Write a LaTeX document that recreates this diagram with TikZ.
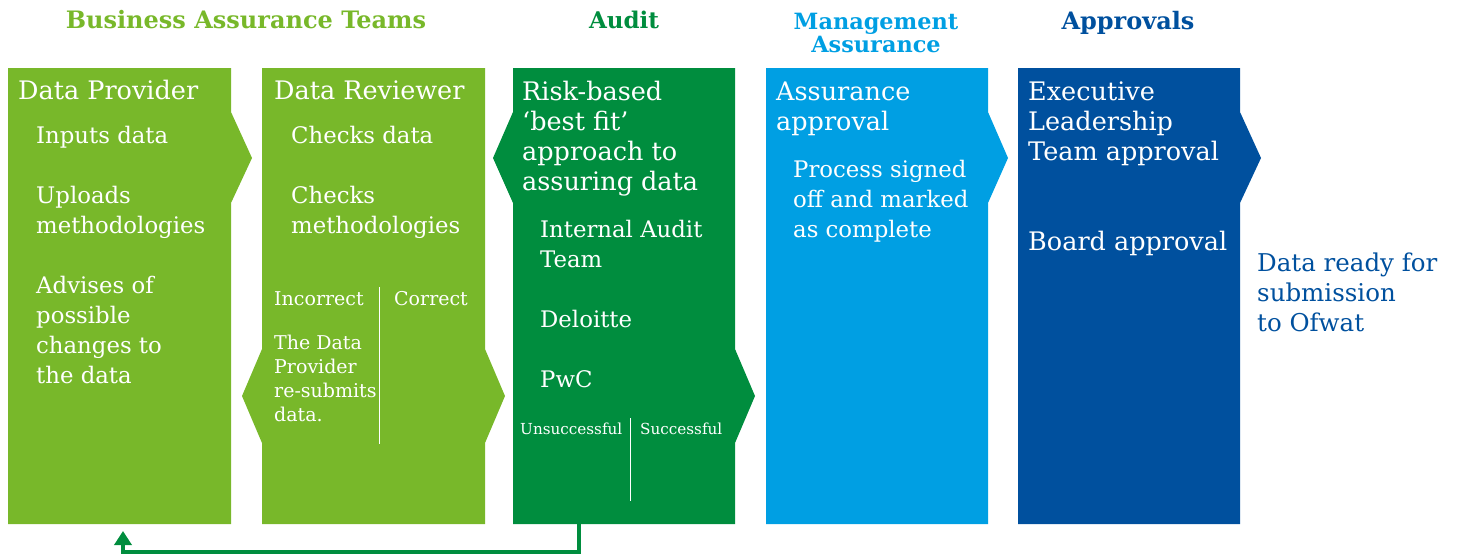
\documentclass[tikz,border=0pt]{standalone}
\usepackage{fontspec}
\setmainfont{DejaVu Serif}
\usetikzlibrary{arrows.meta}
\definecolor{lgreen}{HTML}{78B82A}
\definecolor{dgreen}{HTML}{008D3E}
\definecolor{lblue}{HTML}{009FE3}
\definecolor{dblue}{HTML}{00509E}
\begin{document}
\begin{tikzpicture}[x=1pt,y=-1pt,
  boxtitle/.style={anchor=base west,inner sep=0pt,text=white,font=\fontsize{25.5}{30}\selectfont},
  item/.style={anchor=base west,inner sep=0pt,text=white,font=\fontsize{22.8}{28}\selectfont},
  small/.style={anchor=base west,inner sep=0pt,text=white,font=\fontsize{19}{24}\selectfont},
  tiny/.style={anchor=base west,inner sep=0pt,text=white,font=\fontsize{15.2}{18}\selectfont},
  header/.style={anchor=base,inner sep=0pt,font=\bfseries\fontsize{24}{28}\selectfont},
  divider/.style={draw=white,line width=1pt}]
\useasboundingbox (0,0) rectangle (1458,555);
% boxes
\fill[lgreen] (8,68) -- (231,68) -- (231,112) -- (252,158) -- (231,203) -- (231,524) -- (8,524) -- cycle;
\fill[lgreen] (262,68) -- (485,68) -- (485,349) -- (505,396) -- (485,443) -- (485,524) -- (262,524) -- (262,443) -- (242,396) -- (262,349) -- cycle;
\fill[dgreen] (513,68) -- (735,68) -- (735,349) -- (755,396) -- (735,443) -- (735,524) -- (513,524) -- (513,203) -- (493,158) -- (513,112) -- cycle;
\fill[lblue] (766,68) -- (988,68) -- (988,112) -- (1008,158) -- (988,203) -- (988,524) -- (766,524) -- cycle;
\fill[dblue] (1018,68) -- (1240,68) -- (1240,112) -- (1261,158) -- (1240,203) -- (1240,524) -- (1018,524) -- cycle;
% dividers
\draw[divider] (379,287) -- (379,444);
\draw[divider] (630,418) -- (630,501);
% headers
\node[header,text=lgreen] (h1) at (246,28) {Business Assurance Teams};
\node[header,text=dgreen,font=\bfseries\fontsize{23}{28}\selectfont] (h2) at (624,28) {Audit};
\node[header,text=lblue,font=\bfseries\fontsize{22.4}{24}\selectfont] (h3a) at (876,29) {Management};
\node[header,text=lblue,font=\bfseries\fontsize{22.4}{24}\selectfont] (h3b) at (876,52) {Assurance};
\node[header,text=dblue] (h4) at (1128,29) {Approvals};
% box 1
\node[boxtitle] (t1) at (18,99) {Data Provider};
\node[item] (p1) at (36,143) {Inputs data};
\node[item] (p2) at (36,203) {Uploads};
\node[item] (p3) at (36,233) {methodologies};
\node[item] (p4) at (36,293) {Advises of};
\node[item] (p5) at (36,323) {possible};
\node[item] (p6) at (36,353) {changes to};
\node[item] (p7) at (36,383) {the data};
% box 2
\node[boxtitle] (t2) at (274,99) {Data Reviewer};
\node[item] (r1) at (291,143) {Checks data};
\node[item] (r2) at (291,203) {Checks};
\node[item] (r3) at (291,233) {methodologies};
\node[small] (r4) at (274,305) {Incorrect};
\node[small] (r5) at (394,305) {Correct};
\node[small] (r6) at (274,349) {The Data};
\node[small] (r7) at (274,373) {Provider};
\node[small] (r8) at (274,397) {re-submits};
\node[small] (r9) at (274,421) {data.};
% box 3
\node[boxtitle] (t3a) at (522,100) {Risk-based};
\node[boxtitle] (t3b) at (522,130) {‘best fit’};
\node[boxtitle] (t3c) at (522,160) {approach to};
\node[boxtitle] (t3d) at (522,190) {assuring data};
\node[item] (a1) at (540,237) {Internal Audit};
\node[item] (a2) at (540,267) {Team};
\node[item] (a3) at (540,327) {Deloitte};
\node[item] (a4) at (540,387) {PwC};
\node[tiny] (a5) at (520,434) {Unsuccessful};
\node[tiny] (a6) at (640,434) {Successful};
% box 4
\node[boxtitle] (t4a) at (776,100) {Assurance};
\node[boxtitle] (t4b) at (776,130) {approval};
\node[item] (m1) at (793,177) {Process signed};
\node[item] (m2) at (793,207) {off and marked};
\node[item] (m3) at (793,237) {as complete};
% box 5
\node[boxtitle] (t5a) at (1028,100) {Executive};
\node[boxtitle] (t5b) at (1028,130) {Leadership};
\node[boxtitle] (t5c) at (1028,160) {Team approval};
\node[boxtitle] (t5d) at (1028,250) {Board approval};
% final text
\node[item,text=dblue,font=\fontsize{24.5}{30}\selectfont] (d1) at (1257,271) {Data ready for};
\node[item,text=dblue,font=\fontsize{24.5}{30}\selectfont] (d2) at (1257,301) {submission};
\node[item,text=dblue,font=\fontsize{24.5}{30}\selectfont] (d3) at (1257,331) {to Ofwat};
% return arrow
\coordinate (auditout) at (579,524);
\coordinate (providerin) at (123,531);
\draw[dgreen,line width=3.5pt,-{Triangle[width=17pt,length=14pt]}] (auditout) -- ++(0,28) -| (providerin);
\end{tikzpicture}
\end{document}
